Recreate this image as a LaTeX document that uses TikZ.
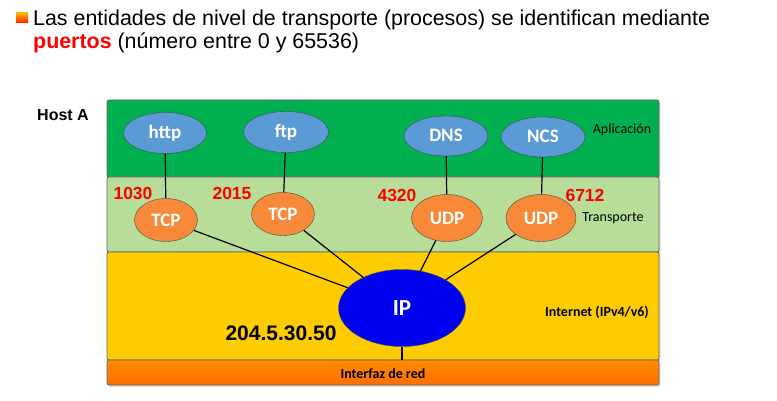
\documentclass[tikz,border=0pt]{standalone}
\usepackage{fontspec}
\setmainfont{Liberation Sans}
\newfontfamily\calibri{Carlito}
\usetikzlibrary{shapes.geometric,shadows}

\definecolor{appgreen}{RGB}{0,176,80}
\definecolor{transgreen}{RGB}{183,221,153}
\definecolor{netyellow}{RGB}{255,204,0}
\definecolor{ifaceorange}{RGB}{255,110,0}
\definecolor{protoblue}{RGB}{91,155,213}
\definecolor{portorange}{RGB}{247,137,56}
\definecolor{ipblue}{RGB}{0,0,240}
\definecolor{portred}{RGB}{255,0,0}

\begin{document}
\begin{tikzpicture}[
    x=1pt,y=-1pt,
    layer/.style={draw=black!60,line width=0.8pt,rounded corners=2pt,
        drop shadow={opacity=0.25,shadow xshift=1.5pt,shadow yshift=-2pt}},
    proto/.style 2 args={ellipse,draw=black!70,fill=#1,text=white,
        font=\calibri\bfseries\fontsize{19}{19}\selectfont,
        text height=12pt,text depth=0pt,
        minimum height=#2,inner sep=0pt},
    port/.style={text=portred,font=\bfseries\fontsize{17.5}{17.5}\selectfont},
    layername/.style={font=\calibri\fontsize{14}{14}\selectfont},
    link/.style={line width=1.2pt}
]
\useasboundingbox (0,0) rectangle (777,401);

%Draw the title
\shade[top color=orange!60!yellow,bottom color=red!75!orange] (16,13) rectangle (28,23);
\node[anchor=base west,inner sep=0pt,font=\fontsize{21.4}{24}\selectfont] (title1) at (33,26)
    {Las entidades de nivel de transporte (procesos) se identifican mediante};
\node[anchor=base west,inner sep=0pt,font=\fontsize{21.4}{24}\selectfont] (title2) at (33,49)
    {\textcolor{portred}{\bfseries puertos} (número entre 0 y 65536)};

%Draw the layers
\draw[layer,fill=appgreen] (107,100) rectangle (659,177);
\draw[layer,fill=transgreen] (107,177) rectangle (659,252);
\draw[layer,fill=netyellow] (107,252) rectangle (659,360);
\draw[layer,top color=orange!90!yellow,bottom color=ifaceorange] (107,360) rectangle (659,385);
\coordinate (ifacetop) at (404,360);

\node[font=\bfseries\fontsize{16}{16}\selectfont] (host) at (63,115) {Host A};
\node[layername] (aplic) at (622,130) {Aplicación};
\node[layername] (transp) at (613,218) {Transporte};
\node[layername,font=\calibri\bfseries\fontsize{14}{14}\selectfont] (inet) at (597,312) {Internet (IPv4/v6)};
\node[layername,font=\calibri\bfseries\fontsize{14}{14}\selectfont] (iface) at (383,374) {Interfaz de red};

%Draw the processes
\node[proto={protoblue}{41pt},minimum width=83pt] (http) at (165,133) {http};
\node[proto={protoblue}{41pt},minimum width=85pt] (ftp) at (286,132) {ftp};
\node[proto={protoblue}{40pt},minimum width=84pt] (dns) at (446,136) {DNS};
\node[proto={protoblue}{40pt},minimum width=84pt] (ncs) at (543,137) {NCS};

\node[proto={portorange}{43pt},minimum width=63pt] (tcpa) at (166,220) {TCP};
\node[proto={portorange}{43pt},minimum width=63pt] (tcpb) at (283,214) {TCP};
\node[proto={portorange}{47pt},minimum width=71pt] (udpa) at (447,218) {UDP};
\node[proto={portorange}{47pt},minimum width=70pt] (udpb) at (541,218) {UDP};

\node[proto={ipblue}{77pt},minimum width=127pt,text height=15pt,
    font=\calibri\bfseries\fontsize{23}{23}\selectfont] (ip) at (402,308) {IP};

%Draw the ports
\node[port] (p1030) at (133,193) {1030};
\node[port] (p2015) at (232,193) {2015};
\node[port] (p4320) at (397,195) {4320};
\node[port] (p6712) at (585,195) {6712};
\node[font=\bfseries\fontsize{21}{21}\selectfont] (addr) at (281,333) {204.5.30.50};

%Draw the connections
\draw[link] (http) to (tcpa);
\draw[link] (ftp) to (tcpb);
\draw[link] (dns) to (udpa);
\draw[link] (ncs) to (udpb);
\draw[link] (tcpa) to (ip);
\draw[link] (tcpb) to (ip);
\draw[link] (udpa) to (ip);
\draw[link] (udpb) to (ip);
\draw[link] (ip) to (ip |- ifacetop);

\end{tikzpicture}
\end{document}
